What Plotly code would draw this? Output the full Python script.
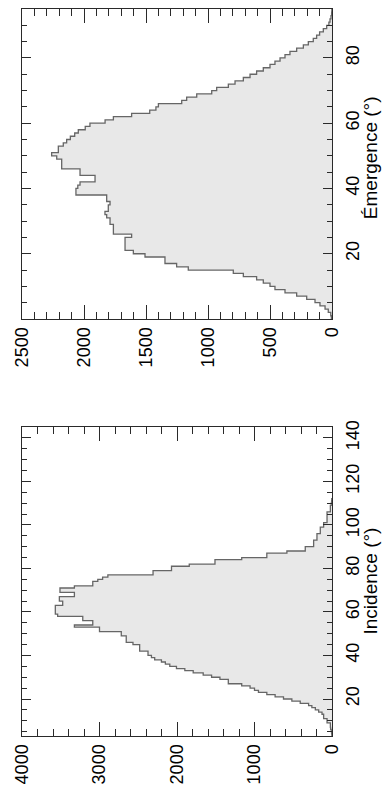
import plotly.graph_objects as go

# Émergence histogram: 1° bins starting at 0°
emergence_start = list(range(0, 95))
emergence_counts = [
    5, 10, 30, 56, 97, 137, 204, 285, 379, 460,
    500, 554, 608, 715, 796, 1159, 1253, 1347, 1347, 1508,
    1602, 1669, 1669, 1669, 1669, 1616, 1763, 1763, 1763, 1790,
    1790, 1817, 1831, 1804, 1804, 1790, 1817, 1817, 2065, 2065,
    2050, 2032, 1911, 1911, 2032, 2032, 2180, 2180, 2180, 2220,
    2261, 2207, 2207, 2167, 2140, 2110, 2075, 2046, 1990, 1952,
    1830, 1763, 1616, 1470, 1420, 1400, 1212, 1172, 1091, 970,
    930, 836, 782, 715, 661, 608, 554, 500, 460, 419,
    379, 339, 285, 231, 191, 151, 124, 100, 70, 43,
    25, 16, 8, 3, 1,
]

# Incidence histogram: 1° bins starting at 3°
incidence_start = list(range(3, 112))
incidence_counts = [
    2, 5, 10, 18, 21, 21, 64, 64, 108, 108,
    129, 172, 215, 260, 302, 410, 518, 626, 734, 841,
    949, 1000, 1057, 1165, 1338, 1338, 1446, 1554, 1662, 1791,
    1899, 2007, 2093, 2150, 2201, 2288, 2330, 2374, 2374, 2482,
    2482, 2482, 2568, 2655, 2655, 2655, 2719, 2719, 3000, 3000,
    3324, 3087, 3087, 3216, 3216, 3540, 3570, 3570, 3570, 3570,
    3475, 3475, 3518, 3518, 3324, 3324, 3510, 3510, 3324, 3087,
    3087, 3022, 2960, 2892, 2309, 2309, 2071, 2071, 1842, 1510,
    1510, 1165, 841, 841, 582, 345, 345, 237, 237, 237,
    194, 194, 194, 151, 151, 151, 108, 108, 64, 64,
    64, 64, 64, 21, 21, 21, 10, 5, 3,
]

count_ticks_top = [0, 500, 1000, 1500, 2000, 2500]
count_ticks_bottom = [0, 1000, 2000, 3000, 4000]
angle_ticks_top = [20, 40, 60, 80]
angle_ticks_bottom = [20, 40, 60, 80, 100, 120, 140]

FONT = "Liberation Sans, Arial, Helvetica, sans-serif"
AXIS_COLOR = "#2a2a2a"


def step_trace(starts, counts, xaxis, yaxis):
    # histogram outline drawn sideways: count on x, angle on y
    ys = [starts[0]] + list(starts) + [starts[-1] + 1]
    xs = [0] + list(counts) + [0]
    return go.Scatter(
        x=xs, y=ys, mode="lines", xaxis=xaxis, yaxis=yaxis,
        line=dict(shape="vh", color="#666666", width=1.3),
        fill="toself", fillcolor="#e8e8e8",
        hoverinfo="skip", showlegend=False,
    )


def count_axis(rng, ticks, minor_step, anchor):
    return dict(
        range=rng, tickmode="array", tickvals=ticks, ticktext=[str(t) for t in ticks],
        tickangle=-90, ticks="inside", ticklen=14, tickwidth=1.3, tickcolor=AXIS_COLOR,
        minor=dict(ticks="inside", dtick=minor_step, tick0=0, ticklen=7,
                   tickwidth=1.2, tickcolor=AXIS_COLOR),
        showline=True, linecolor=AXIS_COLOR, linewidth=1.3, mirror="allticks",
        showgrid=False, zeroline=False, anchor=anchor, domain=[0, 1],
        ticklabelstandoff=0,
        tickfont=dict(family=FONT, size=18, color="black"),
    )


def angle_axis(rng, ticks, domain, anchor):
    return dict(
        range=rng, tickmode="array", tickvals=ticks, ticktext=[str(t) for t in ticks],
        side="right", tickangle=-90, ticks="inside", ticklen=9, tickwidth=1.3,
        tickcolor=AXIS_COLOR,
        minor=dict(ticks="inside", dtick=5, tick0=0, ticklen=5,
                   tickwidth=1.2, tickcolor=AXIS_COLOR),
        showline=True, linecolor=AXIS_COLOR, linewidth=1.3, mirror="allticks",
        showgrid=False, zeroline=False, anchor=anchor, domain=domain,
        ticklabelstandoff=4,
        tickfont=dict(family=FONT, size=18, color="black"),
    )


fig = go.Figure()
fig.add_trace(step_trace(emergence_start, emergence_counts, "x", "y"))
fig.add_trace(step_trace(incidence_start, incidence_counts, "x2", "y2"))

top_dom = [0.5736, 1.0]
bot_dom = [0.0, 0.4251]

fig.update_layout(
    width=382, height=809,
    margin=dict(l=22, r=50, t=2, b=73),
    paper_bgcolor="white", plot_bgcolor="white",
    font=dict(family=FONT, size=18, color="black"),
    xaxis=count_axis([2500, 0], count_ticks_top, 100, "y"),
    yaxis=angle_axis([0, 95], angle_ticks_top, top_dom, "x"),
    xaxis2=count_axis([4000, 0], count_ticks_bottom, 200, "y2"),
    yaxis2=angle_axis([3, 145], angle_ticks_bottom, bot_dom, "x2"),
    annotations=[
        dict(text="Émergence (°)", xref="paper", yref="paper", x=1.1226,
             y=(top_dom[0] + top_dom[1]) / 2 + 0.008, textangle=-90, showarrow=False,
             xanchor="center", yanchor="middle", font=dict(size=19)),
        dict(text="Incidence (°)", xref="paper", yref="paper", x=1.1226,
             y=(bot_dom[0] + bot_dom[1]) / 2, textangle=-90, showarrow=False,
             xanchor="center", yanchor="middle", font=dict(size=19)),
    ],
)

# the page body has a default margin; drop it so the figure sits at (0, 0)
fig.write_html(
    "out.html",
    config={"displayModeBar": False},
    post_script="document.body.style.margin = '0px';",
)
